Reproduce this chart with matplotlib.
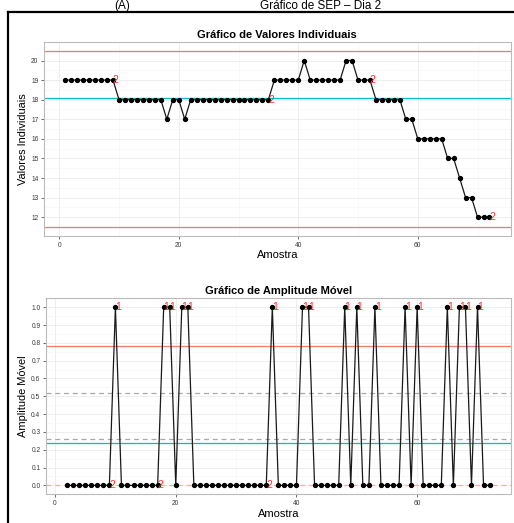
import matplotlib
matplotlib.use("Agg")
import matplotlib.pyplot as plt
from matplotlib.lines import Line2D
import numpy as np

# Individual values per sample (amostra 1..72)
amostra = list(range(1, 73))
valores = ([19] * 9 + [18] * 8 + [17, 18, 18, 17] + [18] * 14 + [19] * 5 + [20]
           + [19] * 6 + [20, 20] + [19] * 3 + [18] * 5 + [17, 17] + [16] * 5
           + [15, 15, 14, 13, 13, 12, 12, 12])

# Control limits
lsc_i, lc_i, lic_i = 20.5, 18.1, 11.5
lsc_mr, lc_mr, lic_mr = 0.78, 0.24, 0.0
zonas_mr = [0.26, 0.52]

# Rule-violation labels (sample, rule)
regras_i = [(9, "2"), (35, "2"), (52, "2"), (72, "2")]
regras_mr_2 = [9, 17, 35]

# Moving range from sample 2 on
amostra_mr = amostra[1:]
amplitude = [abs(valores[i] - valores[i - 1]) for i in range(1, len(valores))]
regras_mr = [(x, "1") for x, r in zip(amostra_mr, amplitude) if r > lsc_mr]
regras_mr += [(x, "2") for x in regras_mr_2]

W, H = 514, 523
plt.rcParams["font.family"] = ["Liberation Sans", "DejaVu Sans"]
fig = plt.figure(figsize=(W / 100, H / 100), dpi=100)

RED = "#F8766D"
CYAN = "#00BFC4"
LBL = "#FF3030"


def painel(rect, xs, ys, linhas, labels, titulo, ylabel, yticks, yfmt,
           xlim, ylim, yminor):
    ax = fig.add_axes(rect)
    ax.set_facecolor("white")
    for v in [0, 20, 40, 60]:
        ax.axvline(v, color="#EBEBEB", lw=0.6, zorder=0)
    for v in [10, 30, 50, 70]:
        ax.axvline(v, color="#F7F7F7", lw=0.5, zorder=0)
    for v in yticks:
        ax.axhline(v, color="#EBEBEB", lw=0.6, zorder=0)
    for v in yminor:
        ax.axhline(v, color="#F7F7F7", lw=0.5, zorder=0)
    for y, c, ls in linhas:
        ax.axhline(y, color=c, lw=0.9, ls=ls, zorder=1,
                   dashes=(4, 3) if ls == "--" else (None, None))
    ax.plot(xs, ys, color="#1A1A1A", lw=0.9, zorder=2)
    ax.plot(xs, ys, "o", color="black", ms=2.8, zorder=3)
    lookup = dict(zip(xs, ys))
    for x, t in labels:
        ax.annotate(t, (x, lookup[x]), xytext=(2.0, 0),
                    textcoords="offset points", ha="center", va="center",
                    color=LBL, fontsize=7.5, zorder=4)
    ax.set_xlim(*xlim)
    ax.set_ylim(*ylim)
    ax.set_xticks([0, 20, 40, 60])
    ax.set_yticks(yticks)
    ax.set_yticklabels([yfmt.format(v) for v in yticks])
    ax.tick_params(length=2.5, width=0.6, color="#555555", labelsize=4.8,
                   labelcolor="#3A3A3A", pad=1.5)
    for s in ax.spines.values():
        s.set_color("#BBBBBB")
        s.set_linewidth(0.8)
    ax.set_title(titulo, fontsize=8, fontweight="bold", pad=3)
    ax.set_xlabel("Amostra", fontsize=8, labelpad=1.2)
    ax.set_ylabel(ylabel, fontsize=7.9, labelpad=2)
    return ax


# Top panel: individual values
painel([44 / W, 1 - 236 / H, 466.7 / W, 194.3 / H], amostra, valores,
       [(lsc_i, RED, "-"), (lic_i, RED, "-"), (lc_i, CYAN, "-")],
       regras_i, "Gráfico de Valores Individuais", "Valores Individuais",
       list(range(12, 21)), "{:d}", (-2.55, 75.55), (11.04, 20.96),
       [v + 0.5 for v in range(11, 21)])

# Bottom panel: moving range
painel([46 / W, 1 - 494.3 / H, 464.7 / W, 196 / H], amostra_mr, amplitude,
       [(zonas_mr[0], "#AAAAAA", "--"), (zonas_mr[1], "#AAAAAA", "--"),
        (lsc_mr, RED, "-"), (lic_mr, "#F9A8A3", "--"), (lc_mr, CYAN, "-")],
       regras_mr, "Gráfico de Amplitude Móvel", "Amplitude Móvel",
       [i / 10 for i in range(11)], "{:.1f}", (-1.5, 75.5), (-0.05, 1.05),
       [i / 10 + 0.05 for i in range(10)])

# Heading above the frame
fig.text(122 / W, 1 - 9.2 / H, "(A)", fontsize=8.5, ha="center",
         va="baseline")
fig.text(321 / W, 1 - 9.2 / H, "Gráfico de SEP – Dia 2", fontsize=8.5,
         ha="center", va="baseline")

# Black frame around the panels
fig.add_artist(Line2D([8 / W, 8 / W], [0, 1 - 12 / H], color="black",
                      lw=1.6, transform=fig.transFigure))
fig.add_artist(Line2D([8 / W, 1], [1 - 12 / H, 1 - 12 / H], color="black",
                      lw=1.6, transform=fig.transFigure))

fig.savefig("out.png", dpi=100, facecolor="white")
